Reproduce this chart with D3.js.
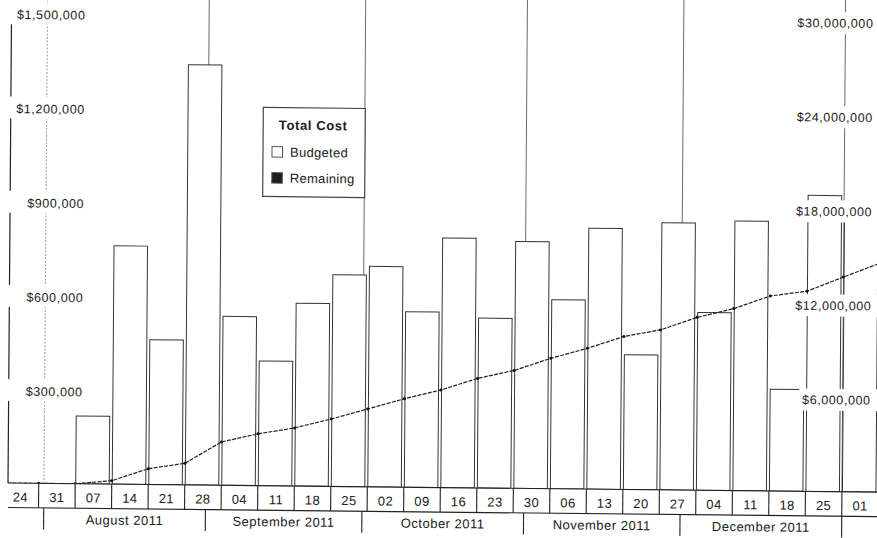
<!DOCTYPE html>
<html>
<head>
<meta charset="utf-8">
<script src="https://cdn.jsdelivr.net/npm/d3@7"></script>
<style>
  html, body { margin: 0; padding: 0; background: #fff; }
  svg { display: block; font-family: "Liberation Sans", Arial, sans-serif; }
</style>
</head>
<body>
<svg id="chart" width="877" height="538"></svg>
<script>
// Weekly periods (week starting Sunday)
const weekStarts = [
  "2011-07-24", "2011-07-31", "2011-08-07", "2011-08-14", "2011-08-21", "2011-08-28",
  "2011-09-04", "2011-09-11", "2011-09-18", "2011-09-25", "2011-10-02", "2011-10-09",
  "2011-10-16", "2011-10-23", "2011-10-30", "2011-11-06", "2011-11-13", "2011-11-20",
  "2011-11-27", "2011-12-04", "2011-12-11", "2011-12-18", "2011-12-25", "2012-01-01"
];
const weekLabels = [
  "24", "31", "07", "14", "21", "28", "04", "11", "18", "25", "02", "09",
  "16", "23", "30", "06", "13", "20", "27", "04", "11", "18", "25", "01"
];
const periodEnd = "2012-01-08";

// Total cost per week (left axis)
const budgeted = [
  0, 0, 216000, 759000, 461000, 1338000, 538000, 397000, 582000, 674000, 702000, 559000,
  795000, 541000, 786000, 602000, 831000, 429000, 851000, 566000, 859000, 324000, 943000, 910000
];
const remaining = [
  0, 0, 0, 0, 0, 0, 0, 0, 0, 0, 0, 0,
  0, 0, 0, 0, 0, 0, 0, 0, 0, 0, 0, 0
];

// Cumulative cost at each week boundary (right axis)
const cumulativeDates = weekStarts.concat([periodEnd]);
const cumulativeCost = [
  0, 0, 0, 216000, 1008000, 1374000, 2762000, 3301000, 3701000, 4292000, 4961000, 5633000,
  6216000, 6977000, 7511000, 8302000, 8969000, 9745000, 10189000, 11010000, 11593000,
  12423000, 12749000, 13678000, 14587000
];

// Month bands
const monthStarts = ["2011-08-01", "2011-09-01", "2011-10-01", "2011-11-01", "2011-12-01", "2012-01-01"];
const monthLabels = ["August 2011", "September 2011", "October 2011", "November 2011", "December 2011"];

// Axis ticks
const leftTicks = [300000, 600000, 900000, 1200000, 1500000];
const rightTicks = [6000000, 12000000, 18000000, 24000000, 30000000];

const legendTitle = "Total Cost";
const legendItems = [
  { name: "Budgeted", fill: "#ffffff" },
  { name: "Remaining", fill: "#1c1c1c" }
];

// ---- layout ----
const parse = d3.utcParse("%Y-%m-%d");
const plotLeft = 8, plotRight = 876, base = 483, plotTop = 12;
const dateRowBottom = 507.5, monthRowBottom = 529;
const ink = "#1a1a1a";

const x = d3.scaleUtc()
  .domain([parse(weekStarts[0]), parse(periodEnd)])
  .range([2.2, 2.2 + 24 * 36.51]);
const yL = d3.scaleLinear().domain([0, 1500000]).range([base, plotTop]);
const yR = d3.scaleLinear().domain([0, 30000000]).range([base, plotTop]);
const fmt = d3.format("$,");

const svg = d3.select("#chart");
svg.append("rect").attr("width", 877).attr("height", 538).attr("fill", "#fff");

// the printed sheet sits slightly skewed on the page
const g = svg.append("g").attr("transform", "matrix(1,0.0105,-0.0075,1,3.62,-0.08)");

g.append("clipPath").attr("id", "plotClip")
  .append("rect").attr("x", plotLeft).attr("y", -30)
  .attr("width", plotRight - plotLeft + 1).attr("height", base + 30);
g.append("clipPath").attr("id", "rowClip")
  .append("rect").attr("x", plotLeft).attr("y", base - 1)
  .attr("width", plotRight - plotLeft + 4).attr("height", 60);

const plot = g.append("g").attr("clip-path", "url(#plotClip)");

// month boundary gridlines
plot.selectAll("line.month").data(monthStarts).join("line")
  .attr("class", "month")
  .attr("x1", d => x(parse(d))).attr("x2", d => x(parse(d)))
  .attr("y1", -30).attr("y2", base)
  .attr("stroke", (d, i) => i === 0 ? "#9a9a9a" : "#6a6a6a")
  .attr("stroke-dasharray", (d, i) => i === 0 ? "2,1.5" : null)
  .attr("stroke-width", 1);

// weekly bars
const weeks = weekStarts.map((d, i) => ({
  start: parse(d),
  end: parse(i + 1 < weekStarts.length ? weekStarts[i + 1] : periodEnd),
  label: weekLabels[i],
  budgeted: budgeted[i],
  remaining: remaining[i]
}));

plot.selectAll("rect.budgeted").data(weeks.filter(d => d.budgeted > 0)).join("rect")
  .attr("class", "budgeted")
  .attr("x", d => x(d.start) + 0.5)
  .attr("width", d => x(d.end) - x(d.start) - 3)
  .attr("y", d => yL(d.budgeted))
  .attr("height", d => base - yL(d.budgeted))
  .attr("fill", "#fff").attr("stroke", "#333").attr("stroke-width", 1);

plot.selectAll("rect.remaining").data(weeks.filter(d => d.remaining > 0)).join("rect")
  .attr("class", "remaining")
  .attr("x", d => x(d.start) + 4)
  .attr("width", d => x(d.end) - x(d.start) - 9)
  .attr("y", d => yL(d.remaining))
  .attr("height", d => base - yL(d.remaining))
  .attr("fill", "#1c1c1c");

// cumulative cost line
const cum = cumulativeDates.map((d, i) => ({ date: parse(d), v: cumulativeCost[i] }));
plot.append("path").datum(cum)
  .attr("fill", "none").attr("stroke", "#222").attr("stroke-width", 1.2)
  .attr("stroke-dasharray", "4,1.3")
  .attr("d", d3.line().x(d => x(d.date)).y(d => yR(d.v)));
plot.selectAll("circle.pt").data(cum).join("circle")
  .attr("class", "pt")
  .attr("cx", d => x(d.date)).attr("cy", d => yR(d.v)).attr("r", 1.5)
  .attr("fill", "#111");

// left axis line
g.append("line").attr("x1", plotLeft).attr("x2", plotLeft).attr("y1", plotTop).attr("y2", base)
  .attr("stroke", "#222").attr("stroke-width", 1.2);

// date row
const row = g.append("g").attr("clip-path", "url(#rowClip)");
row.append("line").attr("x1", plotLeft).attr("x2", plotRight + 3).attr("y1", base).attr("y2", base)
  .attr("stroke", "#222").attr("stroke-width", 1.2);
row.append("line").attr("x1", plotLeft).attr("x2", plotRight + 3)
  .attr("y1", dateRowBottom).attr("y2", dateRowBottom)
  .attr("stroke", "#222").attr("stroke-width", 1.2);
row.selectAll("line.wk").data(weeks.slice(1)).join("line")
  .attr("class", "wk")
  .attr("x1", d => x(d.start)).attr("x2", d => x(d.start))
  .attr("y1", base).attr("y2", dateRowBottom)
  .attr("stroke", "#222").attr("stroke-width", 1.1);
row.selectAll("text.wk").data(weeks).join("text")
  .attr("class", "wk")
  .attr("x", d => (x(d.start) + x(d.end)) / 2)
  .attr("y", 501.5)
  .attr("text-anchor", "middle")
  .attr("font-size", 13).attr("letter-spacing", 0.4)
  .attr("fill", ink)
  .text(d => d.label);

// month row
row.selectAll("line.mo").data(monthStarts).join("line")
  .attr("class", "mo")
  .attr("x1", d => x(parse(d))).attr("x2", d => x(parse(d)))
  .attr("y1", dateRowBottom).attr("y2", monthRowBottom)
  .attr("stroke", "#222").attr("stroke-width", 1.1);
row.selectAll("text.mo").data(monthLabels).join("text")
  .attr("class", "mo")
  .attr("x", (d, i) => (x(parse(monthStarts[i])) + x(parse(monthStarts[i + 1]))) / 2)
  .attr("y", 523.5)
  .attr("text-anchor", "middle")
  .attr("font-size", 13).attr("letter-spacing", 0.5)
  .attr("fill", ink)
  .text(d => d);

// left axis labels
const lt = g.selectAll("g.lt").data(leftTicks).join("g").attr("class", "lt");
lt.append("rect")
  .attr("x", 3).attr("width", 84)
  .attr("y", d => yL(d) + 2.3 - 12).attr("height", 22)
  .attr("fill", "#fff");
lt.append("text")
  .attr("x", 82).attr("y", d => yL(d) + 6.8)
  .attr("text-anchor", "end")
  .attr("font-size", 12.5).attr("letter-spacing", 0.6)
  .attr("fill", ink)
  .text(d => fmt(d));

// right axis labels
const rt = g.selectAll("g.rt").data(rightTicks).join("g").attr("class", "rt");
rt.append("rect").attr("class", "bg").attr("fill", "#fff");
rt.append("text")
  .attr("x", 870).attr("y", d => yR(d) + 6.8)
  .attr("text-anchor", "end")
  .attr("font-size", 12.5).attr("letter-spacing", 0.6)
  .attr("fill", ink)
  .text(d => fmt(d));
rt.each(function (d) {
  const t = d3.select(this).select("text").node();
  const w = t.getComputedTextLength();
  d3.select(this).select("rect.bg")
    .attr("x", 870 - w - 3).attr("width", w + 10)
    .attr("y", yR(d) + 2.3 - 11).attr("height", 22);
});

// legend
const lg = g.append("g").attr("transform", "translate(260.5,104.8)");
lg.append("rect").attr("width", 102).attr("height", 89)
  .attr("fill", "#fff").attr("stroke", "#444").attr("stroke-width", 1.2);
lg.append("text").attr("x", 50).attr("y", 22)
  .attr("text-anchor", "middle")
  .attr("font-size", 13).attr("font-weight", "bold").attr("letter-spacing", 0.6)
  .attr("fill", ink).text(legendTitle);
const li = lg.selectAll("g.li").data(legendItems).join("g")
  .attr("class", "li")
  .attr("transform", (d, i) => `translate(9,${39 + i * 26})`);
li.append("rect").attr("width", 10.5).attr("height", 10.5)
  .attr("fill", d => d.fill).attr("stroke", "#555").attr("stroke-width", 1);
li.append("text").attr("x", 18).attr("y", 10)
  .attr("font-size", 13).attr("letter-spacing", 0.3)
  .attr("fill", ink).text(d => d.name);
</script>
</body>
</html>
